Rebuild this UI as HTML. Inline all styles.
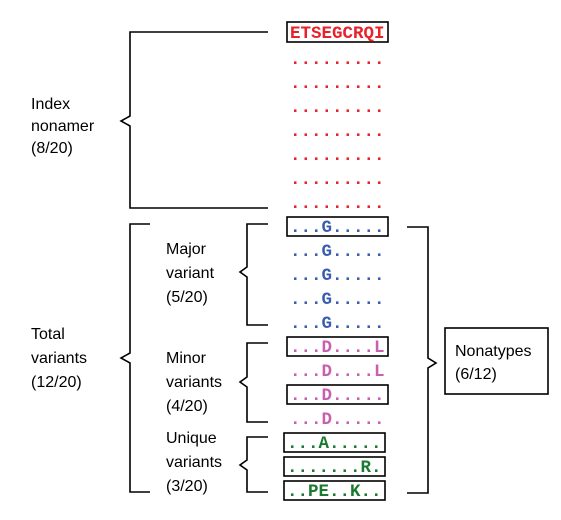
<!DOCTYPE html>
<html><head><style>
body{margin:0;background:#fff;}
svg{display:block}
.m{font-family:"Liberation Mono",monospace;font-weight:bold;font-size:17.5px;}
.l{font-family:"Liberation Sans",sans-serif;font-size:16px;fill:#000}
</style></head><body>
<svg width="561" height="520" viewBox="0 0 561 520" xmlns="http://www.w3.org/2000/svg">
<g fill="none" stroke="#000" stroke-width="1.6">
<polyline points="268,32 130,32 130,116 121,121 130,126 130,208 268,208"/>
<polyline points="150,224 130,224 130,353 121,358 130,363 130,492 150,492"/>
<polyline points="268,224 247,224 247,267 240,272 247,277 247,325 268,325"/>
<polyline points="268,343 247,343 247,377 240,382 247,387 247,422 268,422"/>
<polyline points="268,437 247,437 247,460 240,465 247,470 247,492 268,492"/>
<polyline points="407,227 428,227 428,358 436,363 428,368 428,493 407,493"/>
<rect x="445" y="328" width="103" height="66"/>
<rect x="287" y="22" width="101" height="20"/>
<rect x="287" y="217" width="101" height="19"/>
<rect x="287" y="337" width="101" height="19"/>
<rect x="287" y="385" width="101" height="19"/>
<rect x="284" y="433" width="101" height="19"/>
<rect x="284" y="457" width="101" height="19"/>
<rect x="284" y="481" width="101" height="19"/>
</g>
<g class="m">
<text x="290" y="38" fill="#e8212a">ETSEGCRQI</text>
<g fill="#e8212a">
<text x="290" y="64">.........</text>
<text x="290" y="88">.........</text>
<text x="290" y="112">.........</text>
<text x="290" y="136">.........</text>
<text x="290" y="160">.........</text>
<text x="290" y="184">.........</text>
<text x="290" y="208">.........</text>
</g>
<g fill="#3a5cb0">
<text x="290" y="232">...G.....</text>
<text x="290" y="256">...G.....</text>
<text x="290" y="280">...G.....</text>
<text x="290" y="304">...G.....</text>
<text x="290" y="328">...G.....</text>
</g>
<g fill="#c860b0">
<text x="290" y="352">...D....L</text>
<text x="290" y="376">...D....L</text>
<text x="290" y="400">...D.....</text>
<text x="290" y="424">...D.....</text>
</g>
<g fill="#1a7a30">
<text x="287" y="448">...A.....</text>
<text x="287" y="472">.......R.</text>
<text x="287" y="496">..PE..K..</text>
</g>
</g>
<g class="l">
<text x="31" y="109">Index</text>
<text x="31" y="131">nonamer</text>
<text x="31" y="153">(8/20)</text>
<text x="166" y="254">Major</text>
<text x="166" y="278">variant</text>
<text x="166" y="302">(5/20)</text>
<text x="31" y="339">Total</text>
<text x="31" y="363">variants</text>
<text x="31" y="387">(12/20)</text>
<text x="166" y="363">Minor</text>
<text x="166" y="387">variants</text>
<text x="166" y="411">(4/20)</text>
<text x="166" y="443">Unique</text>
<text x="166" y="467">variants</text>
<text x="166" y="491">(3/20)</text>
<text x="455" y="356">Nonatypes</text>
<text x="455" y="379">(6/12)</text>
</g>
</svg>
</body></html>
